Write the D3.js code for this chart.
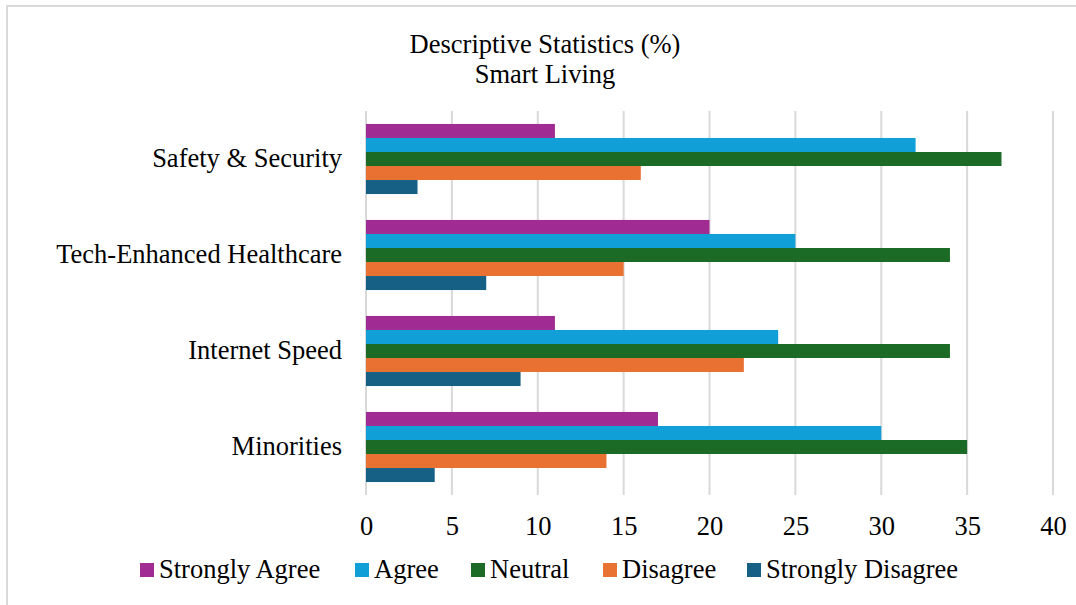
<!DOCTYPE html>
<html>
<head>
<meta charset="utf-8">
<script src="https://cdn.jsdelivr.net/npm/d3@7"></script>
<style>
  html, body { margin: 0; padding: 0; background: #fff; }
  svg text { font-family: 'Liberation Serif', 'Times New Roman', serif !important; fill: #000; }
</style>
</head>
<body>
<svg id="chart" width="1076" height="605"></svg>
<script>
// Survey categories, top to bottom
const categories = ["Safety & Security", "Tech-Enhanced Healthcare", "Internet Speed", "Minorities"];
// Response levels (order of bars within each category, top to bottom)
const seriesNames = ["Strongly Agree", "Agree", "Neutral", "Disagree", "Strongly Disagree"];
const seriesColors = ["#a02b93", "#109fd7", "#1b6b26", "#e97132", "#166085"];
// Percentages per response level, aligned with categories
const stronglyAgree    = [11, 20, 11, 17];
const agree            = [32, 25, 24, 30];
const neutral          = [37, 34, 34, 35];
const disagree         = [16, 15, 22, 14];
const stronglyDisagree = [3, 7, 9, 4];
const xTicks = [0, 5, 10, 15, 20, 25, 30, 35, 40];
const titleLines = ["Descriptive Statistics (%)", "Smart Living"];

const seriesValues = [stronglyAgree, agree, neutral, disagree, stronglyDisagree];

const FONT = 26.5;
const svg = d3.select("#chart");
const margin = { left: 366, right: 23, top: 111, bottom: 110 };
const W = 1076, H = 605;

// outer frame
svg.append("rect")
  .attr("x", 7).attr("y", 6)
  .attr("width", 1080).attr("height", 620)
  .attr("fill", "none").attr("stroke", "#d9d9d9").attr("stroke-width", 2);

const x = d3.scaleLinear().domain([0, 40]).range([margin.left, W - margin.right]);
const y = d3.scaleBand().domain(categories).range([margin.top, H - margin.bottom]).paddingInner(0.27).paddingOuter(0.135);
const ySub = d3.scaleBand().domain(seriesNames).range([0, y.bandwidth()]);

// vertical gridlines
svg.append("g")
  .selectAll("line").data(xTicks).join("line")
  .attr("x1", d => x(d)).attr("x2", d => x(d))
  .attr("y1", margin.top).attr("y2", H - margin.bottom)
  .attr("stroke", "#d9d9d9").attr("stroke-width", 2);

// bars
const groups = svg.append("g").selectAll("g").data(categories).join("g")
  .attr("transform", d => `translate(0,${y(d)})`);

groups.selectAll("rect")
  .data((c, ci) => seriesNames.map((s, si) => ({ s, si, v: seriesValues[si][ci] })))
  .join("rect")
  .attr("x", x(0))
  .attr("y", d => ySub(d.s))
  .attr("width", d => x(d.v) - x(0))
  .attr("height", ySub.bandwidth())
  .attr("fill", d => seriesColors[d.si]);

// x axis labels
const xAxis = d3.axisBottom(x).tickValues(xTicks).tickSize(0).tickPadding(0);
const gx = svg.append("g").attr("transform", `translate(0,${H - margin.bottom + 21})`).call(xAxis);
gx.select(".domain").remove();
gx.selectAll("text").attr("font-size", FONT);

// category labels
const yAxis = d3.axisLeft(y).tickSize(0).tickPadding(24);
const gy = svg.append("g").attr("transform", `translate(${margin.left},0)`).call(yAxis);
gy.select(".domain").remove();
gy.selectAll("text").attr("font-size", FONT);

// title
svg.append("g").selectAll("text").data(titleLines).join("text")
  .attr("x", 545).attr("y", (d, i) => 53 + i * 30)
  .attr("text-anchor", "middle").attr("font-size", FONT)
  .text(d => d);

// legend
const legendX = [140, 355, 471, 603, 747];
const lg = svg.append("g").selectAll("g").data(seriesNames).join("g")
  .attr("transform", (d, i) => `translate(${legendX[i]},563)`);
lg.append("rect").attr("width", 14).attr("height", 14).attr("fill", (d, i) => seriesColors[i]);
lg.append("text").attr("x", 19).attr("y", 15).attr("font-size", FONT).text(d => d);
</script>
</body>
</html>
